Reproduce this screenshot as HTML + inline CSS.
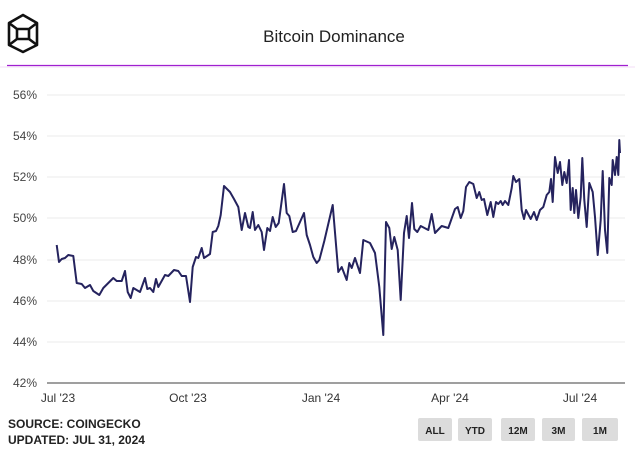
<!DOCTYPE html>
<html><head><meta charset="utf-8"><style>
body{margin:0;background:#fff;width:635px;height:449px;overflow:hidden;font-family:"Liberation Sans",sans-serif}
</style></head><body>
<svg width="635" height="449" xmlns="http://www.w3.org/2000/svg" font-family="Liberation Sans, sans-serif">
<g fill="none" stroke="#111" stroke-width="2.6" stroke-linejoin="round">
<polygon points="23,15 37,23 37,45 23,52 9,45 9,23"/>
<polyline points="9,23 17,29 29,29 37,23"/>
<polyline points="9,45 17,39 29,39 37,45"/>
<polyline points="17,29 17,39"/><polyline points="29,29 29,39"/>
</g>
<text x="334" y="42" font-size="17" fill="#222" text-anchor="middle">Bitcoin Dominance</text>
<line x1="7" y1="65.5" x2="628" y2="65.5" stroke="#a020d0" stroke-width="1.2"/>
<line x1="0" y1="67" x2="635" y2="67" stroke="#f3ddf7" stroke-width="1"/>
<g stroke="#ebebeb" stroke-width="1">
<line x1="47" y1="95" x2="625" y2="95"/><line x1="47" y1="136" x2="625" y2="136"/>
<line x1="47" y1="177" x2="625" y2="177"/><line x1="47" y1="218" x2="625" y2="218"/>
<line x1="47" y1="260" x2="625" y2="260"/><line x1="47" y1="301" x2="625" y2="301"/>
<line x1="47" y1="342" x2="625" y2="342"/>
</g>
<line x1="47" y1="383" x2="625" y2="383" stroke="#666" stroke-width="1.2"/>
<g font-size="12" fill="#444">
<text x="13" y="99">56%</text><text x="13" y="140">54%</text><text x="13" y="181">52%</text>
<text x="13" y="222">50%</text><text x="13" y="264">48%</text><text x="13" y="305">46%</text>
<text x="13" y="346">44%</text><text x="13" y="387">42%</text>
</g>
<g font-size="12" fill="#333" text-anchor="middle">
<text x="58" y="402">Jul '23</text><text x="188" y="402">Oct '23</text><text x="321" y="402">Jan '24</text>
<text x="450" y="402">Apr '24</text><text x="580" y="402">Jul '24</text>
</g>
<polyline fill="none" stroke="#25235e" stroke-width="2" stroke-linejoin="round" points="56.7,245 59,262 61.7,259 65,258 68.3,255 73.3,256 76.7,283 81.7,284 85,288 90,285 93.3,291 99.3,295 103.3,288 108.3,283 113.3,278 116.7,281 121.7,281 125,271 127.7,292 130.7,298 133.3,288 140,292 145,278 147.3,289 150,288 153.3,292 156,279 158.3,287 165,275 168.3,276 174,270 178.3,271 181.7,276 186,276 190,302 192.7,267 196,257 198.3,258 201.7,248 204,258 210,254 212.7,232 216,231 218.3,226 220.7,215 224,186 230,192 234,199 238.3,207 241.7,230 245,213 248.3,227 250,228 252.7,212 255,230 258.3,225 261.7,232 264,250 267.3,228 270,231 272.7,217 275.7,227 278.7,223 284,184 286.7,213 289.3,216 292.7,232 296,231 304,213 306.7,235 310,245 313.3,257 316.7,263 319.3,260 324.3,241 332.7,205 338.3,272 341.7,267 346.7,280 349.3,263 351.7,268 355,258 360,273 363.3,240 370,243 375,253 379.3,287 383.3,335 386,222 389.3,228 391.7,249 394.3,237 397.7,250 400.7,300 404,233 406.7,216 409,238 412,203 414.3,229 417.3,232 420.7,226 428.3,230 431.7,214 435,233 441.7,226 448.3,228 455,209 457.7,207 460.7,218 463.3,211 466,187 469.3,182 473.3,184 476.7,198 479.3,192 481.7,200 484,199 487.3,215 490.7,202 493.3,217 496,202 498.3,204 500.7,201 502.7,205 505,201 508.3,205 511.7,188 513.3,176 516,182 519.3,179 521.7,210 524,219 526,210 530.7,219 534,212 536.7,220 540,210 543.3,207 546.7,195 549.3,192 551,179 552.7,202 555,157 557.7,173 560,162 562.3,185 564.3,172 566.7,183 569,160 570.7,210 572.7,188 574.3,213 576,190 578.3,218 580.7,197 582.3,158 584.3,200 586.7,227 589.3,183 592.7,192 595,217 597.7,255 600.7,220 602.7,171 605,230 607.3,253 609.3,178 611.7,185 612.7,160 615,175 616.7,157 618.3,175 619.3,140 620,153"/>
<g font-size="12" font-weight="bold" fill="#222">
<text x="8" y="428">SOURCE: COINGECKO</text><text x="8" y="444">UPDATED: JUL 31, 2024</text>
</g>
<g fill="#dcdcdc">
<rect x="418" y="418" width="34" height="23" rx="2"/><rect x="458" y="418" width="34" height="23" rx="2"/>
<rect x="501" y="418" width="34" height="23" rx="2"/><rect x="542" y="418" width="33" height="23" rx="2"/>
<rect x="582" y="418" width="36" height="23" rx="2"/>
</g>
<g font-size="10" font-weight="bold" fill="#222" text-anchor="middle">
<text x="435" y="434">ALL</text><text x="475" y="434">YTD</text><text x="518" y="434">12M</text>
<text x="558.5" y="434">3M</text><text x="600" y="434">1M</text>
</g>
</svg>
</body></html>
